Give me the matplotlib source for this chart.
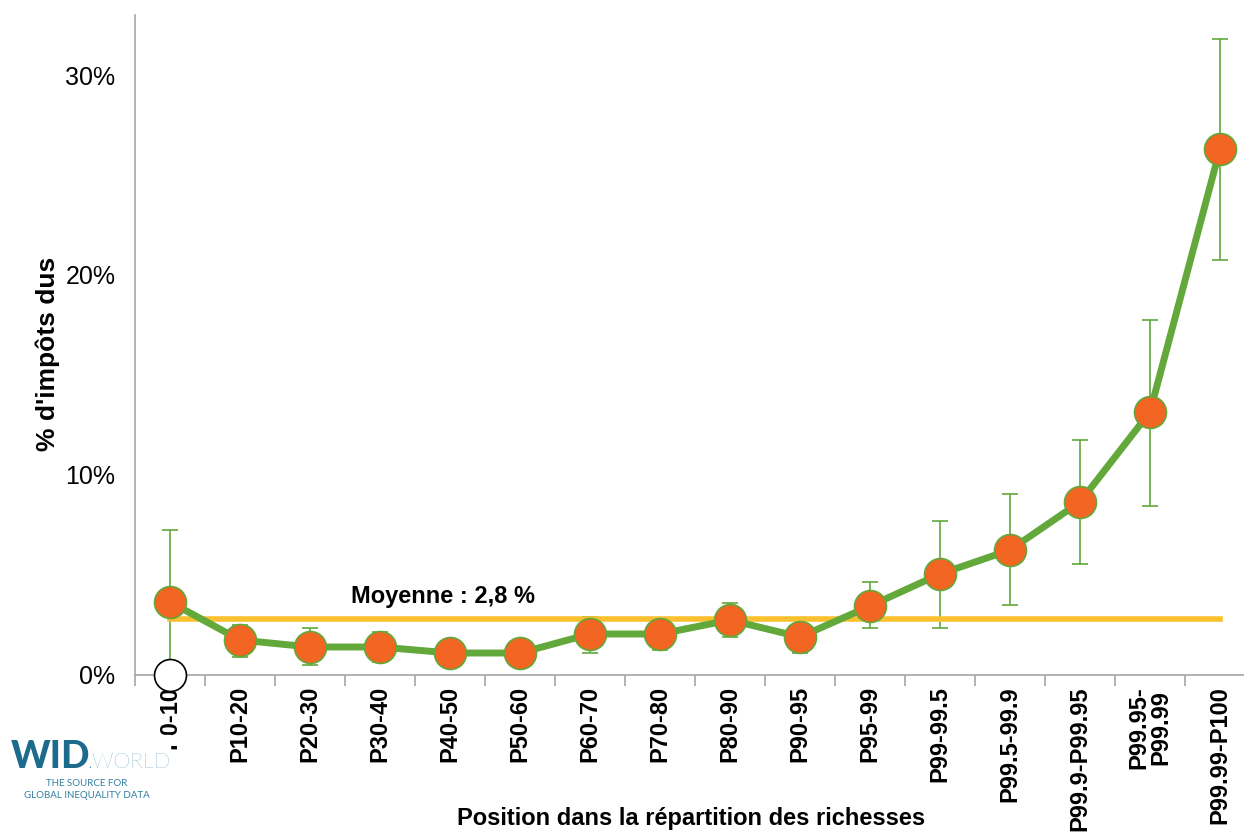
import matplotlib
matplotlib.use("Agg")
import matplotlib.pyplot as plt
from matplotlib.ticker import FixedLocator, FuncFormatter

categories = ["P0-10", "P10-20", "P20-30", "P30-40", "P40-50", "P50-60",
              "P60-70", "P70-80", "P80-90", "P90-95", "P95-99", "P99-99.5",
              "P99.5-99.9", "P99.9-P99.95", "P99.95-\nP99.99", "P99.99-P100"]
tax_share = [3.65, 1.75, 1.4, 1.4, 1.1, 1.1, 2.05, 2.05, 2.75, 1.9, 3.45,
             5.05, 6.25, 8.65, 13.15, 26.3]
err_high = [7.25, 2.5, 2.35, 2.15, 1.75, 1.2, 2.9, 2.65, 3.6, 2.5, 4.65,
            7.7, 9.05, 11.75, 17.75, 31.8]
err_low = [-0.5, 0.9, 0.5, 0.65, 0.5, 1.0, 1.1, 1.25, 1.9, 1.1, 2.35,
           2.35, 3.5, 5.55, 8.45, 20.75]
mean_value = 2.8
y_ticks = [0, 10, 20, 30]

GREEN = "#62a83a"
ORANGE = "#f26522"
GOLD = "#fbc02d"
GREY = "#a6a6a6"

plt.rcParams["font.family"] = ["Liberation Sans", "DejaVu Sans"]

W, H = 1244, 832
fig = plt.figure(figsize=(W / 100, H / 100), dpi=100)
ax = fig.add_axes([135 / W, 157 / H, 1120 / W, 660 / H])

x = list(range(len(categories)))
lower = [v - lo for v, lo in zip(tax_share, err_low)]
upper = [hi - v for v, hi in zip(tax_share, err_high)]

ax.errorbar(x, tax_share, yerr=[lower, upper], fmt="none", ecolor=GREEN,
            elinewidth=1.2, capsize=6, capthick=1.2, zorder=2)
ax.plot([x[0], x[-1]], [mean_value, mean_value], color=GOLD, lw=4, zorder=3)
ax.plot(x, tax_share, color=GREEN, lw=5, zorder=4, solid_capstyle="round")
ax.plot(x, tax_share, "o", ms=23, mfc=ORANGE, mec=GREEN, mew=1.2, zorder=5)
ax.plot([x[0]], [0], "o", ms=23, mfc="white", mec="black", mew=1.2,
        zorder=6, clip_on=False)

ax.text(3.9, mean_value + 0.55, f"Moyenne : {mean_value:.1f} %".replace(".", ","),
        ha="center", va="bottom", fontsize=17, fontweight="bold")

ax.set_xlim(-0.5, len(categories) - 0.5)
ax.set_ylim(0, 33)

for side in ("top", "right"):
    ax.spines[side].set_visible(False)
for side in ("left", "bottom"):
    ax.spines[side].set_color(GREY)
    ax.spines[side].set_linewidth(1.2)

ax.yaxis.set_major_locator(FixedLocator(y_ticks))
ax.yaxis.set_major_formatter(FuncFormatter(lambda v, p: f"{v:.0f}%"))
ax.tick_params(axis="y", length=0, pad=14, labelsize=18)

ax.set_xticks(x)
ax.set_xticklabels(categories, rotation=90, fontsize=17, fontweight="bold",
                   va="top", ha="center", linespacing=0.95)
ax.tick_params(axis="x", length=0, pad=8)
ax.set_xticks([k - 0.5 for k in range(len(categories) + 1)], minor=True)
ax.tick_params(axis="x", which="minor", length=8, color=GREY, width=1.2)

fig.text(48 / W, 1 - 354 / H, "% d'impôts dus", rotation=90, ha="center",
         va="center", fontsize=19, fontweight="bold")
fig.text(691 / W, 1 - 818 / H, "Position dans la répartition des richesses",
         ha="center", va="center", fontsize=17, fontweight="bold")

# WID.WORLD logo block
fig.patches.append(plt.Rectangle((10 / W, 1 - 805 / H), 160 / W, 70 / H,
                                 transform=fig.transFigure, color="white",
                                 zorder=10))
fig.text(11 / W, 1 - 768 / H, "WID", fontsize=27, fontweight="black",
         color="#1c6b8c", ha="left", va="baseline",
         family=["Lato", "DejaVu Sans"], zorder=11)
fig.text(87 / W, 1 - 768 / H, ".WORLD", fontsize=15.5, fontweight="light",
         color="#3d86a8", ha="left", va="baseline",
         family=["Lato", "DejaVu Sans"], zorder=11)
fig.text(87 / W, 1 - 784 / H, "THE SOURCE FOR", fontsize=7.0,
         color="#2f7fa0", ha="center", va="center",
         family=["Lato", "DejaVu Sans"], zorder=11)
fig.text(87 / W, 1 - 796 / H, "GLOBAL INEQUALITY DATA", fontsize=7.0,
         color="#2f7fa0", ha="center", va="center",
         family=["Lato", "DejaVu Sans"], zorder=11)

fig.savefig("out.png", dpi=100)
